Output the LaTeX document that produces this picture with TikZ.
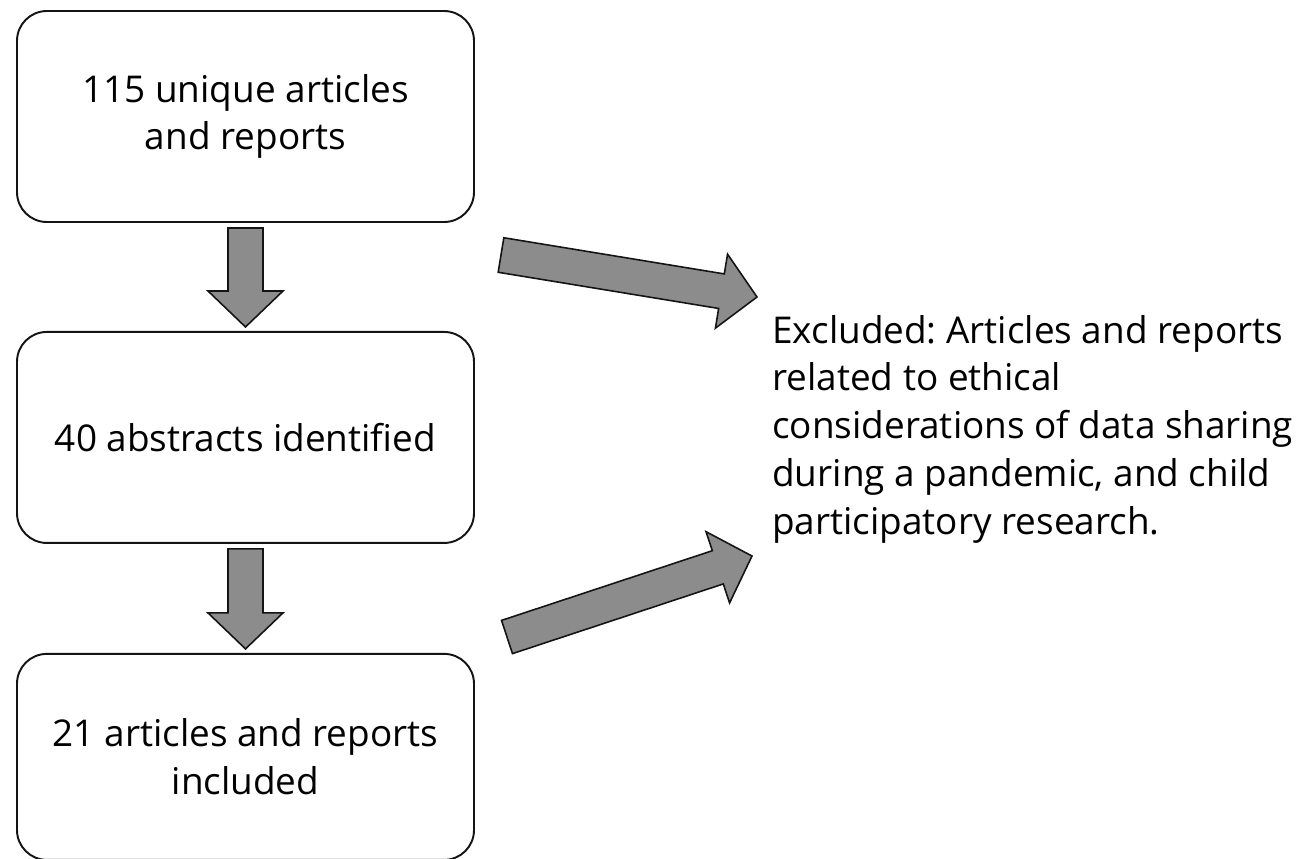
\documentclass[tikz,border=0pt]{standalone}
\usepackage{fontspec}
\setmainfont{Open Sans}
\usepackage{tikz}
\usetikzlibrary{positioning, calc}
\definecolor{arrowgray}{RGB}{140,140,140}
\definecolor{mydark}{RGB}{20,20,20}
\frenchspacing
\tikzset{
  stage/.style={rectangle, draw=mydark, fill=white,
    minimum width=9.14cm, minimum height=4.22cm,
    align=center, rounded corners=17pt, line width=1.1pt,
    font=\fontsize{21}{27.2}\selectfont},
  note/.style={align=left, inner sep=0pt,
    font=\fontsize{21}{27.2}\selectfont},
  blockarrow/.style={draw=mydark, fill=arrowgray, line width=0.9pt, line join=miter}
}
% block arrow from #1 (tail) to #2 (tip)
\newcommand{\fatarrow}[2]{%
  \coordinate (hb) at ($(#2)!0.72cm!(#1)$);
  \draw[blockarrow]
    ($(#1)!0.35cm!90:(#2)$) -- ($(hb)!0.35cm!90:(#2)$) -- ($(hb)!0.75cm!90:(#2)$) -- (#2)
    -- ($(hb)!0.75cm!-90:(#2)$) -- ($(hb)!0.35cm!-90:(#2)$) -- ($(#1)!0.35cm!-90:(#2)$) -- cycle;
}

\begin{document}
\begin{tikzpicture}
  \useasboundingbox (0,0) rectangle (26.12,-17.16);

  % Stages
  \node[stage] (found) at (4.91,-2.33) {115 unique articles\\and reports};
  \node[stage, below=2.16cm of found] (abstr) {40 abstracts identified};
  \node[stage, below=2.18cm of abstr, minimum height=4.12cm] (incl) {21 articles and reports\\included};

  % Excluded note
  \node[note, anchor=west] (excl) at (15.44,-8.58) {Excluded: Articles and reports\\related to ethical\\considerations of data sharing\\during a pandemic, and child\\participatory research.};

  % Arrow ends
  \coordinate (d1a) at ([yshift=-0.1cm]found.south);
  \coordinate (d1b) at ([yshift=0.08cm]abstr.north);
  \coordinate (d2a) at ([yshift=-0.1cm]abstr.south);
  \coordinate (d2b) at ([yshift=0.08cm]incl.north);
  \coordinate (x1a) at (10.02,-5.10);
  \coordinate (x1b) at (15.14,-5.94);
  \coordinate (x2a) at (10.14,-12.74);
  \coordinate (x2b) at (15.04,-11.12);

  % Arrows
  \fatarrow{d1a}{d1b}
  \fatarrow{d2a}{d2b}
  \fatarrow{x1a}{x1b}
  \fatarrow{x2a}{x2b}
\end{tikzpicture}
\end{document}
